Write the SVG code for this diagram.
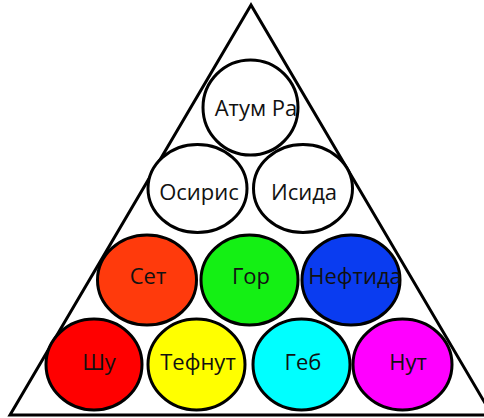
<svg xmlns="http://www.w3.org/2000/svg" width="484" height="418" viewBox="0 0 484 418">
<style>
.tri{fill:none;stroke:#000;stroke-width:3;stroke-linejoin:miter}
.c{stroke:#000;stroke-width:3}
.t{font-family:"Open Sans","Noto Sans","Liberation Sans",sans-serif;font-size:22px;fill:#111;text-anchor:middle}
</style>
<rect width="484" height="418" fill="#fff"/>
<polygon class="tri" points="251,5 10,415 492,415"/>
<g id="atum-ra"><ellipse class="c" cx="250.5" cy="107.5" rx="47.5" ry="47.5" fill="#fff"/><text class="t" x="256" y="116">Атум Ра</text></g>
<g id="osiris"><ellipse class="c" cx="197.5" cy="188.5" rx="49.5" ry="44" fill="#fff"/><text class="t" x="199" y="200">Осирис</text></g>
<g id="isida"><ellipse class="c" cx="303" cy="188.5" rx="49.5" ry="44" fill="#fff"/><text class="t" x="304" y="200">Исида</text></g>
<g id="set"><ellipse class="c" cx="147" cy="280" rx="49.5" ry="45" fill="#ff3a0c"/><text class="t" x="148" y="284">Сет</text></g>
<g id="gor"><ellipse class="c" cx="249.5" cy="280" rx="48.5" ry="45" fill="#14f014"/><text class="t" x="251" y="284">Гор</text></g>
<g id="neftida"><ellipse class="c" cx="351" cy="280" rx="49" ry="45" fill="#0a3cf0"/><text class="t" x="355" y="284">Нефтида</text></g>
<g id="shu"><ellipse class="c" cx="94" cy="364.5" rx="48" ry="45.5" fill="#ff0000"/><text class="t" x="99" y="370">Шу</text></g>
<g id="tefnut"><ellipse class="c" cx="196.5" cy="364.5" rx="48.5" ry="45.5" fill="#ffff00"/><text class="t" x="198" y="370">Тефнут</text></g>
<g id="geb"><ellipse class="c" cx="301.5" cy="364.5" rx="48.5" ry="45.5" fill="#00ffff"/><text class="t" x="303" y="370">Геб</text></g>
<g id="nut"><ellipse class="c" cx="402.5" cy="364.5" rx="49.5" ry="45.5" fill="#ff00ff"/><text class="t" x="408" y="370">Нут</text></g>
<g id="connectors"/>
</svg>
